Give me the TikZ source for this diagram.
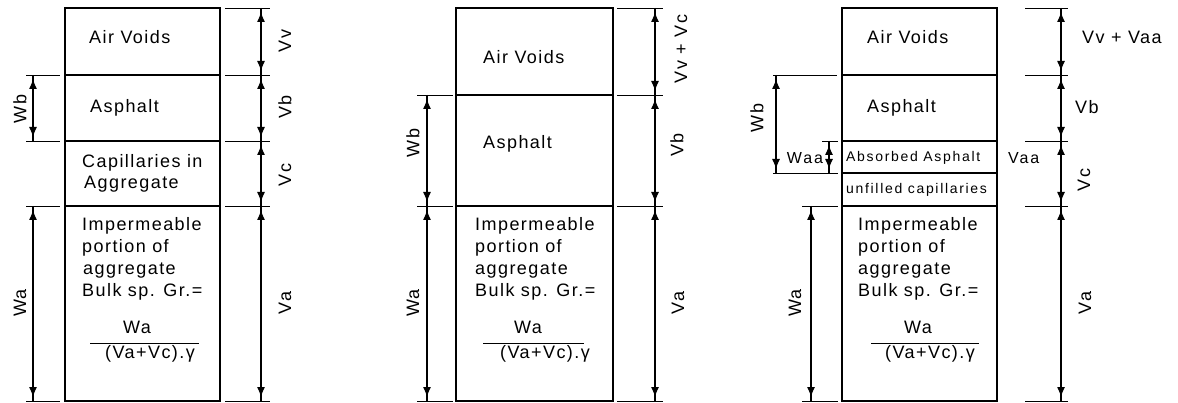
\documentclass[tikz,border=0pt]{standalone}
\usepackage{fontspec}
\usetikzlibrary{arrows.meta}
\newfontfamily\lblfont{Liberation Sans}[LetterSpace=8]
\newfontfamily\smlfont{Liberation Sans}[LetterSpace=12]
\tikzset{
  box/.style={line width=1.3pt},
  tick/.style={line width=0.9pt},
  dimline/.style={line width=1.2pt},
  dtip/.tip={Latex[length=10pt,width=8pt]},
  dimtips/.style={line width=1.2pt, dtip-dtip, shorten <=4pt, shorten >=4pt},
  txt/.style={inner sep=0pt, anchor=base west, font=\lblfont\fontsize{18}{22}\selectfont},
  stxt/.style={inner sep=0pt, anchor=base west, font=\smlfont\fontsize{14}{17}\selectfont},
  ctxt/.style={inner sep=0pt, anchor=base, font=\lblfont\fontsize{18}{22}\selectfont},
  rlab/.style={inner sep=0pt, rotate=90, font=\lblfont\fontsize{18}{22}\selectfont},
  hlab/.style={inner sep=0pt, font=\lblfont\fontsize{18}{22}\selectfont},
}
\newcommand\dimln[2]{\draw[dimline] (#1) -- (#2); \draw[dimtips] (#1) -- (#2);}
\begin{document}
\begin{tikzpicture}[x=1pt,y=-1pt]
\useasboundingbox (0,0) rectangle (1178,403);

% ================= Panel 1 =================
\draw[box] (65,8) rectangle (220,401);
\foreach \y in {75,141,206} \draw[box] (65,\y) -- (220,\y);
\foreach \y in {8,75,141,206,401} \draw[tick] (225,\y) -- (270,\y);
\foreach \y/\n in {8/a,75/b,141/c,206/d,401/e} \coordinate (p1r\n) at (261,\y);
\dimln{p1ra}{p1rb}
\dimln{p1rb}{p1rc}
\dimln{p1rc}{p1rd}
\dimln{p1rd}{p1re}
\foreach \y in {75,141,206,401} \draw[tick] (26,\y) -- (60,\y);
\foreach \y/\n in {75/b,141/c,206/d,401/e} \coordinate (p1l\n) at (33,\y);
\dimln{p1lb}{p1lc}
\dimln{p1ld}{p1le}
\node[rlab] (p1vv) at (285,41) {Vv};
\node[rlab] (p1vb) at (285,107) {Vb};
\node[rlab] (p1vc) at (285,175) {Vc};
\node[rlab] (p1va) at (285,303) {Va};
\node[rlab] (p1wb) at (20,109) {Wb};
\node[rlab] (p1wa) at (20,303) {Wa};
\node[txt] (p1air) at (89,44) {Air Voids};
\node[txt] (p1asp) at (90,113) {Asphalt};
\node[txt] (p1cap1) at (82,168) {Capillaries in};
\node[txt] (p1cap2) at (84,189) {Aggregate};
\node[txt] (p1i1) at (82,231) {Impermeable};
\node[txt] (p1i2) at (82,253) {portion of};
\node[txt] (p1i3) at (83,275) {aggregate};
\node[txt] (p1i4) at (82,297) {Bulk sp. Gr.=};
\node[ctxt] (p1num) at (137,334) {Wa};
\draw[line width=0.9pt] (90,343) -- (199,343);
\node[ctxt] (p1den) at (150,359) {(Va+Vc).γ};

% ================= Panel 2 =================
\draw[box] (456,8) rectangle (613,401);
\foreach \y in {95,206} \draw[box] (456,\y) -- (613,\y);
\foreach \y in {8,95,206,401} \draw[tick] (617,\y) -- (663,\y);
\foreach \y/\n in {8/a,95/b,206/d,401/e} \coordinate (p2r\n) at (655,\y);
\dimln{p2ra}{p2rb}
\dimln{p2rb}{p2rd}
\dimln{p2rd}{p2re}
\foreach \y in {95,206,401} \draw[tick] (417,\y) -- (453,\y);
\foreach \y/\n in {95/b,206/d,401/e} \coordinate (p2l\n) at (427,\y);
\dimln{p2lb}{p2ld}
\dimln{p2ld}{p2le}
\node[rlab] (p2vv) at (681,49) {Vv + Vc};
\node[rlab] (p2vb) at (677,145) {Vb};
\node[rlab] (p2va) at (678,303) {Va};
\node[rlab] (p2wb) at (413,143) {Wb};
\node[rlab] (p2wa) at (413,303) {Wa};
\node[txt] (p2air) at (483,64) {Air Voids};
\node[txt] (p2asp) at (483,149) {Asphalt};
\node[txt] (p2i1) at (475,231) {Impermeable};
\node[txt] (p2i2) at (475,253) {portion of};
\node[txt] (p2i3) at (475,275) {aggregate};
\node[txt] (p2i4) at (475,297) {Bulk sp. Gr.=};
\node[ctxt] (p2num) at (528,334) {Wa};
\draw[line width=0.9pt] (483,343) -- (584,343);
\node[ctxt] (p2den) at (545,359) {(Va+Vc).γ};

% ================= Panel 3 =================
\draw[box] (842,8) rectangle (997,401);
\foreach \y in {75,141,173,206} \draw[box] (842,\y) -- (997,\y);
\foreach \y in {8,75,141,206,401} \draw[tick] (1025,\y) -- (1068,\y);
\foreach \y/\n in {8/a,75/b,141/c,206/d,401/e} \coordinate (p3r\n) at (1061,\y);
\dimln{p3ra}{p3rb}
\dimln{p3rb}{p3rc}
\dimln{p3rc}{p3rd}
\dimln{p3rd}{p3re}
\draw[tick] (773,75) -- (837,75);
\draw[tick] (822,141) -- (838,141);
\draw[tick] (773,173) -- (838,173);
\draw[tick] (802,206) -- (838,206);
\draw[tick] (802,401) -- (838,401);
\coordinate (p3wbt) at (776,75);
\coordinate (p3wbb) at (776,173);
\coordinate (p3wat) at (829,141);
\coordinate (p3wab) at (829,173);
\coordinate (p3wt) at (811,206);
\coordinate (p3wbot) at (811,401);
\dimln{p3wbt}{p3wbb}
\dimln{p3wat}{p3wab}
\dimln{p3wt}{p3wbot}
\node[rlab] (p3wb) at (757,118) {Wb};
\node[hlab, font=\smlfont\fontsize{16}{20}\selectfont] (p3waa) at (805,158) {Waa};
\node[rlab] (p3wa) at (795,303) {Wa};
\node[hlab, anchor=west] (p3vv) at (1082,37) {Vv + Vaa};
\node[hlab, anchor=west] (p3vb) at (1075,107) {Vb};
\node[hlab, anchor=west, font=\smlfont\fontsize{16}{20}\selectfont] (p3vaa) at (1008,158) {Vaa};
\node[rlab] (p3vc) at (1084,180) {Vc};
\node[rlab] (p3va) at (1085,303) {Va};
\node[txt] (p3air) at (867,44) {Air Voids};
\node[txt] (p3asp) at (867,113) {Asphalt};
\node[stxt] (p3abs) at (846,162) {Absorbed Asphalt};
\node[stxt] (p3unf) at (846,194) {unfilled capillaries};
\node[txt] (p3i1) at (858,231) {Impermeable};
\node[txt] (p3i2) at (858,253) {portion of};
\node[txt] (p3i3) at (858,275) {aggregate};
\node[txt] (p3i4) at (858,297) {Bulk sp. Gr.=};
\node[ctxt] (p3num) at (918,334) {Wa};
\draw[line width=0.9pt] (871,343) -- (979,343);
\node[ctxt] (p3den) at (930,359) {(Va+Vc).γ};
\end{tikzpicture}
\end{document}
